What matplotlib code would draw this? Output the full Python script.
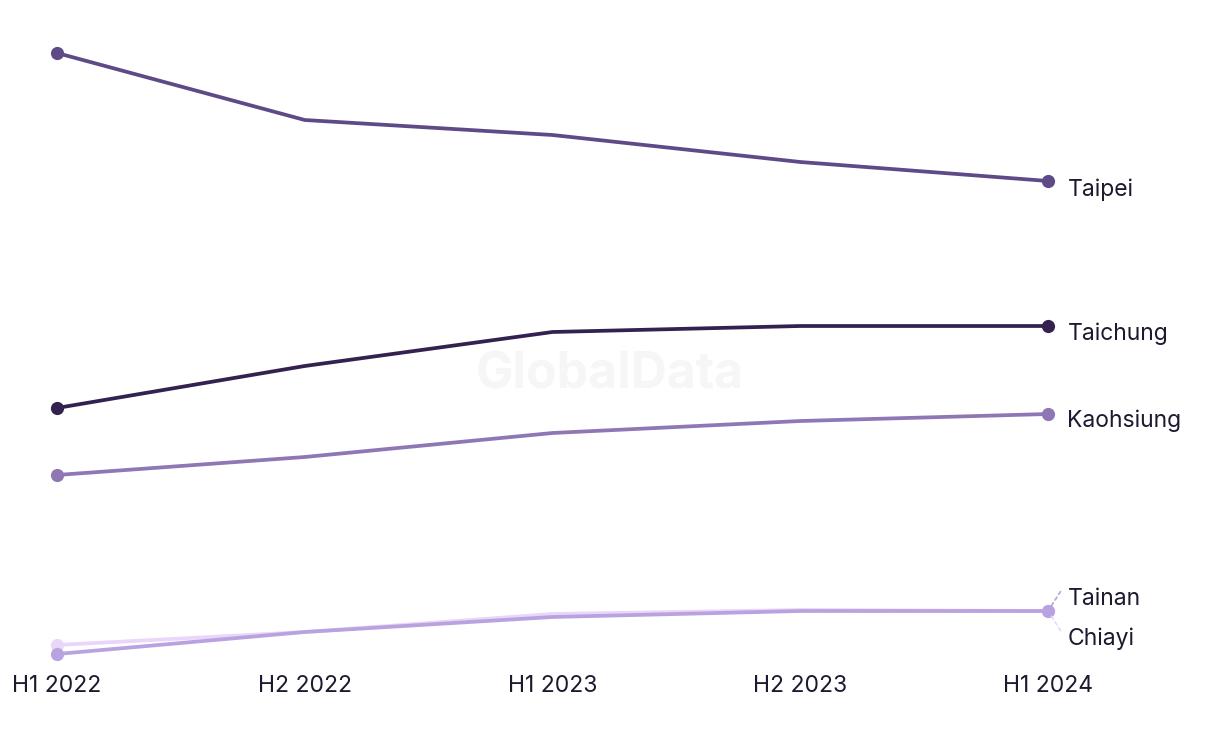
import matplotlib.pyplot as plt

periods = ["H1 2022", "H2 2022", "H1 2023", "H2 2023", "H1 2024"]

# values (relative scale, no y axis shown)
taipei = [647, 580, 565, 538, 519]
taichung = [292, 334, 368, 374, 374]
kaohsiung = [225, 243, 267, 279, 286]
tainan = [46, 68, 83, 89, 89]
chiayi = [55, 68, 86, 90, 89]

series = [
    ("Chiayi", chiayi, "#ead6f8"),
    ("Tainan", tainan, "#b9a2e0"),
    ("Kaohsiung", kaohsiung, "#8f77b5"),
    ("Taichung", taichung, "#33214f"),
    ("Taipei", taipei, "#5e4a86"),
]

plt.rcParams['font.family'] = ['Inter', 'DejaVu Sans']

fig = plt.figure(figsize=(12.2, 7.44), dpi=100)
ax = fig.add_axes([57 / 1220, 84 / 744, (1048 - 57) / 1220, 620 / 744])

x = list(range(len(periods)))
for name, vals, col in series:
    ax.plot(x, vals, color=col, lw=2.7, solid_capstyle="round", zorder=2)
    ax.plot([x[0], x[-1]], [vals[0], vals[-1]], "o", color=col, ms=9.5,
            mec="none", zorder=3, clip_on=False)

# direct labels
txt = dict(fontsize=16.5, color="#1b1a2e", va="center", ha="left")
ax.annotate("Taipei", (x[-1], taipei[-1]), xytext=(14, -6.5), textcoords="offset points", **txt)
ax.annotate("Taichung", (x[-1], taichung[-1]), xytext=(14, -5.5), textcoords="offset points", **txt)
ax.annotate("Kaohsiung", (x[-1], kaohsiung[-1]), xytext=(14, -4.5), textcoords="offset points", **txt)
ax.annotate("Tainan", (x[-1], tainan[-1]), xytext=(14, 8.5), textcoords="offset points", **txt)
ax.annotate("Chiayi", (x[-1], chiayi[-1]), xytext=(14, -20), textcoords="offset points", **txt)

# dashed leaders for the two overlapping labels
ax.annotate("", (x[-1], tainan[-1]), xytext=(9, 14), textcoords="offset points",
            arrowprops=dict(arrowstyle="-", color="#b9a2e0", ls=(0, (2, 2)), lw=1.2,
                            shrinkA=0, shrinkB=4))
ax.annotate("", (x[-1], chiayi[-1]), xytext=(9, -14), textcoords="offset points",
            arrowprops=dict(arrowstyle="-", color="#ead6f8", ls=(0, (2, 2)), lw=1.2,
                            shrinkA=0, shrinkB=4))

ax.text(2.23, 325, "GlobalData", fontsize=36, fontweight="bold", color="#f6f6f6",
        ha="center", va="center", zorder=1)

ax.set_xlim(0, 4)
ax.set_ylim(40, 660)
ax.set_xticks(x)
ax.set_xticklabels(periods, fontsize=16.5, color="#1b1a2e")
ax.tick_params(axis="x", length=0, pad=11)
ax.set_yticks([])
for s in ax.spines.values():
    s.set_visible(False)

fig.savefig("out.png", dpi=100)
